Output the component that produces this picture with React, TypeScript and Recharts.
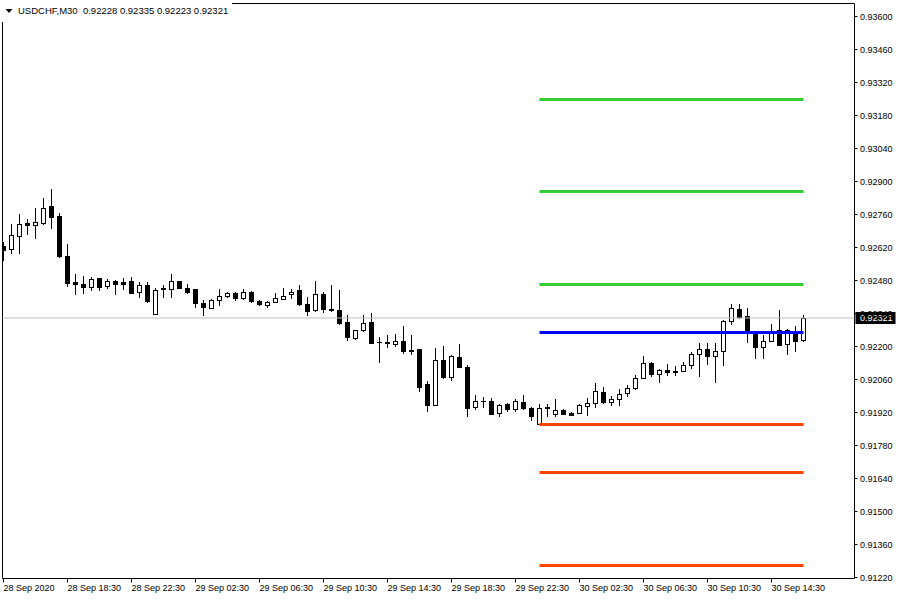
import { ComposedChart, Bar, XAxis, YAxis, ReferenceLine, ReferenceArea } from 'recharts'

const FONT = '"Liberation Sans", Arial, sans-serif'

const symbol = 'USDCHF,M30'

// M30 candles, 28 Sep 14:30 .. 30 Sep 16:30
const opens = [
  0.92628, 0.92614, 0.9267, 0.92722, 0.92716, 0.92723, 0.92794, 0.92752, 0.92585, 0.92472,
  0.92466, 0.92452, 0.92489, 0.92458, 0.9248, 0.92472, 0.92476, 0.92432, 0.92462, 0.92339,
  0.92446, 0.92443, 0.92476, 0.9245, 0.92442, 0.92385, 0.92364, 0.92398, 0.92413, 0.92428,
  0.92405, 0.92432, 0.92394, 0.92375, 0.9239, 0.92402, 0.92421, 0.92438, 0.92382, 0.92354,
  0.92421, 0.92361, 0.92357, 0.92306, 0.92235, 0.92268, 0.92306, 0.92219, 0.92221, 0.9221,
  0.92225, 0.92186, 0.92188, 0.92039, 0.91953, 0.92143, 0.92071, 0.92156, 0.92115, 0.91942,
  0.91968, 0.9197, 0.91919, 0.91954, 0.91936, 0.91965, 0.9194, 0.91872, 0.91945, 0.91915,
  0.91931, 0.91916, 0.91919, 0.91948, 0.91962, 0.92009, 0.91964, 0.91978, 0.92004, 0.92025,
  0.92067, 0.92131, 0.92084, 0.92101, 0.92098, 0.92098, 0.92122, 0.92169, 0.9219, 0.9216,
  0.92179, 0.9231, 0.9236, 0.9233, 0.92261, 0.92197, 0.92224, 0.92271, 0.92211, 0.92267,
  0.92228,
]
const highs = [
  0.92645, 0.92718, 0.92763, 0.92742, 0.92788, 0.92828, 0.9287, 0.92767, 0.92633, 0.92508,
  0.92501, 0.92494, 0.92492, 0.92487, 0.92482, 0.92489, 0.92493, 0.92472, 0.92472, 0.9245,
  0.92459, 0.92506, 0.92478, 0.92467, 0.92445, 0.92399, 0.92401, 0.92442, 0.92432, 0.92432,
  0.92442, 0.92434, 0.92399, 0.92394, 0.92425, 0.9245, 0.92442, 0.92459, 0.92412, 0.92477,
  0.92433, 0.92459, 0.92439, 0.92332, 0.92272, 0.92332, 0.92344, 0.92239, 0.92247, 0.92251,
  0.92285, 0.92247, 0.9219, 0.92053, 0.92194, 0.92204, 0.92162, 0.92211, 0.92122, 0.91995,
  0.91985, 0.91981, 0.91957, 0.91961, 0.91978, 0.91995, 0.91942, 0.91957, 0.91957, 0.91978,
  0.91933, 0.91922, 0.91957, 0.91981, 0.92045, 0.92027, 0.91992, 0.92018, 0.92038, 0.9208,
  0.92158, 0.92133, 0.92103, 0.92127, 0.92119, 0.92133, 0.92176, 0.92216, 0.92216, 0.92214,
  0.92311, 0.9238, 0.92382, 0.92362, 0.92264, 0.92247, 0.92296, 0.92353, 0.92275, 0.92289,
  0.92335,
]
const lows = [
  0.92565, 0.92596, 0.92596, 0.92678, 0.92659, 0.9272, 0.92702, 0.92579, 0.92458, 0.92424,
  0.92428, 0.92441, 0.92438, 0.92447, 0.92424, 0.92443, 0.92426, 0.92409, 0.9239, 0.92337,
  0.92409, 0.92409, 0.92447, 0.92429, 0.92367, 0.92333, 0.92362, 0.92375, 0.92411, 0.92396,
  0.92403, 0.92388, 0.92377, 0.92367, 0.92388, 0.924, 0.92407, 0.92378, 0.92333, 0.9235,
  0.92346, 0.92352, 0.92295, 0.92227, 0.92231, 0.92264, 0.92214, 0.92133, 0.922, 0.92201,
  0.92172, 0.92169, 0.9201, 0.91926, 0.9195, 0.92068, 0.92059, 0.92112, 0.91904, 0.91936,
  0.91942, 0.91913, 0.91904, 0.91928, 0.91927, 0.91936, 0.91887, 0.9187, 0.91904, 0.91904,
  0.91913, 0.91911, 0.91917, 0.91911, 0.91942, 0.91961, 0.91953, 0.91953, 0.91992, 0.92021,
  0.92065, 0.92077, 0.92049, 0.9208, 0.9208, 0.92096, 0.92108, 0.92077, 0.92127, 0.92049,
  0.92122, 0.92296, 0.92322, 0.92218, 0.9215, 0.9215, 0.92222, 0.92205, 0.92167, 0.9218,
  0.92223,
]
const closes = [
  0.9261, 0.92674, 0.92721, 0.92716, 0.92729, 0.92788, 0.92749, 0.92582, 0.92469, 0.92466,
  0.92452, 0.92487, 0.92452, 0.9248, 0.92466, 0.92466, 0.92428, 0.92463, 0.92392, 0.92438,
  0.92447, 0.92476, 0.92447, 0.92433, 0.92384, 0.92367, 0.92399, 0.92415, 0.92428, 0.92404,
  0.92433, 0.92392, 0.9238, 0.9239, 0.92404, 0.92415, 0.92433, 0.9238, 0.92352, 0.92421,
  0.92358, 0.92356, 0.92299, 0.92239, 0.92268, 0.92301, 0.92216, 0.92221, 0.92214, 0.92225,
  0.9218, 0.9218, 0.92027, 0.91952, 0.92143, 0.9207, 0.9216, 0.92114, 0.91938, 0.9197,
  0.91969, 0.91915, 0.9195, 0.91934, 0.9197, 0.91938, 0.91904, 0.91938, 0.9194, 0.91931,
  0.91915, 0.91911, 0.9195, 0.91962, 0.9201, 0.91964, 0.91978, 0.91999, 0.92025, 0.92067,
  0.92131, 0.92082, 0.92101, 0.92091, 0.92093, 0.92122, 0.92167, 0.9219, 0.9216, 0.92179,
  0.92309, 0.92362, 0.92324, 0.92261, 0.92197, 0.92224, 0.92267, 0.92207, 0.92269, 0.92224,
  0.92321,
]

const labelIdx = [0, 8, 16, 24, 32, 40, 48, 56, 64, 72, 80, 88, 96]
const timeLabels = [
  '28 Sep 2020', '28 Sep 18:30', '28 Sep 22:30', '29 Sep 02:30', '29 Sep 06:30',
  '29 Sep 10:30', '29 Sep 14:30', '29 Sep 18:30', '29 Sep 22:30', '30 Sep 02:30',
  '30 Sep 06:30', '30 Sep 10:30', '30 Sep 14:30',
]
const priceTicks = [
  0.9122, 0.9136, 0.915, 0.9164, 0.9178, 0.9192, 0.9206, 0.922, 0.9234,
  0.9248, 0.9262, 0.9276, 0.929, 0.9304, 0.9318, 0.9332, 0.9346, 0.936,
]

// horizontal levels drawn from the swing low to the last bar
const levelPrices = [0.93248, 0.92858, 0.92463, 0.92259, 0.91869, 0.91665, 0.91271]
const levelKinds = ['res', 'res', 'res', 'pivot', 'sup', 'sup', 'sup']
const levelFrom = 67
const levelTo = 100

const levelColors: Record<string, string> = { res: '#32CD32', pivot: '#0000FF', sup: '#FF4500' }

const xDomain: [number, number] = [-0.125, 106.375]
const yDomain: [number, number] = [0.912158, 0.936552]

function Candle(props: any) {
  const { x, y, width, height, payload } = props
  if (!payload) return null
  const { open, high, low, close } = payload
  const top = Math.min(y, y + height)
  const bottom = Math.max(y, y + height)
  const k = high > low ? (bottom - top) / (high - low) : 0
  const py = (v: number) => top + (high - v) * k
  const cx = Math.floor(x + width / 2) + 0.5
  const oy = py(open)
  const cy = py(close)
  const bt = Math.round(Math.min(oy, cy))
  const bb = Math.round(Math.max(oy, cy))
  const up = close > open
  return (
    <g>
      <line x1={cx} x2={cx} y1={Math.round(top)} y2={Math.round(bottom) + 1} stroke="#000" strokeWidth={1} />
      {bb - bt >= 1 ? (
        <rect x={cx - 2} y={bt + 0.5} width={4} height={bb - bt} fill={up ? '#fff' : '#000'} stroke="#000" strokeWidth={1} />
      ) : (
        <line x1={cx - 2.5} x2={cx + 2.5} y1={bt + 0.5} y2={bt + 0.5} stroke="#000" strokeWidth={1} />
      )}
    </g>
  )
}

function TimeTick(props: any) {
  const { x, y, payload } = props
  const idx = labelIdx.indexOf(payload.value)
  return (
    <text x={x} y={y} dy="0.71em" textAnchor="start" fill="#000" fontSize={9} fontFamily={FONT}>
      {timeLabels[idx]}
    </text>
  )
}

function PriceTag(props: any) {
  const { viewBox, value } = props
  if (!viewBox) return null
  const right = viewBox.x + viewBox.width
  const cy = viewBox.y
  return (
    <g>
      <rect x={right + 1} y={cy - 6} width={40} height={12} fill="#000" />
      <text x={right + 5.5} y={cy} dy="0.355em" fill="#fff" fontSize={9} fontFamily={FONT}>
        {value}
      </text>
    </g>
  )
}

export default function App() {
  const data = opens.map((o, i) => ({ i, open: o, high: highs[i], low: lows[i], close: closes[i] }))
  const last = data[data.length - 1]
  const header = `${symbol}  ${[last.open, last.high, last.low, last.close].map((v) => v.toFixed(5)).join(' ')}`

  return (
    <div style={{ position: 'absolute', left: 0, top: 0, width: 900, height: 600, background: '#fff' }}>
      <ComposedChart width={900} height={600} data={data} margin={{ top: 3.5, right: 0, bottom: 0, left: 2.5 }}>
        <XAxis
          dataKey="i"
          type="number"
          domain={xDomain}
          allowDataOverflow
          ticks={labelIdx}
          interval={0}
          tick={<TimeTick />}
          tickSize={4}
          tickMargin={2}
          axisLine={false}
          tickLine={{ stroke: '#000' }}
          height={21.5}
        />
        <YAxis
          orientation="right"
          type="number"
          domain={yDomain}
          allowDataOverflow
          ticks={priceTicks}
          interval={0}
          tickFormatter={(v: number) => v.toFixed(5)}
          width={45.5}
          tickSize={3}
          tickMargin={2.5}
          axisLine={false}
          tickLine={{ stroke: '#000' }}
          tick={{ fill: '#000', fontSize: 9, fontFamily: FONT }}
        />
        <ReferenceArea
          x1={xDomain[0]}
          x2={xDomain[1]}
          y1={yDomain[0]}
          y2={yDomain[1]}
          fill="none"
          fillOpacity={0}
          stroke="#000"
          strokeWidth={1}
          ifOverflow="visible"
        />
        <ReferenceLine y={last.close} stroke="#C0C0C0" strokeWidth={1} />
        {levelPrices.map((p, k) => (
          <ReferenceLine
            key={k}
            segment={[{ x: levelFrom, y: p }, { x: levelTo, y: p }]}
            stroke={levelColors[levelKinds[k]]}
            strokeWidth={3}
          />
        ))}
        <Bar dataKey={(d: any) => [d.low, d.high]} barSize={5} shape={Candle} isAnimationActive={false} />
        <ReferenceLine
          y={last.close}
          stroke="none"
          ifOverflow="visible"
          label={<PriceTag value={last.close.toFixed(5)} />}
        />
      </ComposedChart>
      <div style={{ position: 'absolute', left: 0, top: 0, width: 232, height: 22, background: '#fff' }}>
        <svg width={10} height={10} style={{ position: 'absolute', left: 5, top: 7 }}>
          <polygon points="0.5,2 7.5,2 4,6" fill="#000" />
        </svg>
        <span
          style={{
            position: 'absolute',
            left: 18,
            top: 5,
            fontSize: 9.5,
            fontFamily: FONT,
            color: '#000',
            whiteSpace: 'pre',
            lineHeight: '11px',
          }}
        >
          {header}
        </span>
      </div>
    </div>
  )
}
